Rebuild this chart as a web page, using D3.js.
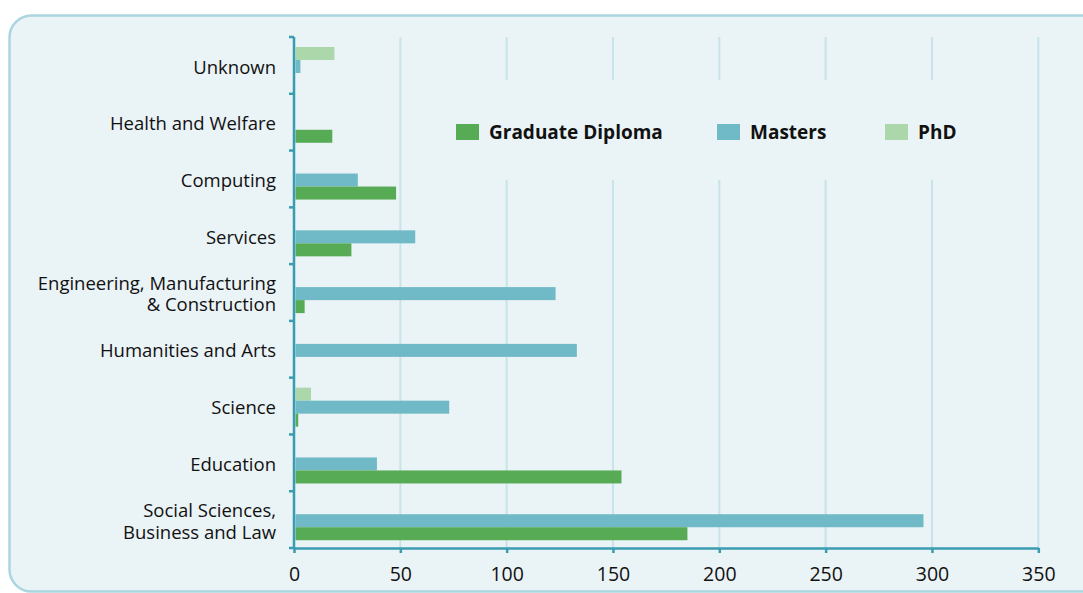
<!DOCTYPE html>
<html>
<head>
<meta charset="utf-8">
<script src="https://cdn.jsdelivr.net/npm/d3@7"></script>
<style>
  html, body { margin: 0; padding: 0; background: #ffffff; }
  svg { display: block; font-family: "Open Sans", "Noto Sans", sans-serif; }
</style>
</head>
<body>
<svg id="chart" width="1083" height="593"></svg>
<script>
// Fields of study, top to bottom
const categories = [
  ["Unknown"],
  ["Health and Welfare"],
  ["Computing"],
  ["Services"],
  ["Engineering, Manufacturing", "& Construction"],
  ["Humanities and Arts"],
  ["Science"],
  ["Education"],
  ["Social Sciences,", "Business and Law"]
];

const seriesNames = ["Graduate Diploma", "Masters", "PhD"];
const graduateDiploma = [0, 18, 48, 27, 5, 0, 2, 154, 185];
const masters         = [3, 0, 30, 57, 123, 133, 73, 39, 296];
const phd             = [19, 0, 0, 0, 0, 0, 8, 0, 0];
const xTicks = [0, 50, 100, 150, 200, 250, 300, 350];

const colors = { "Graduate Diploma": "#57ab55", "Masters": "#70b9c6", "PhD": "#acd7aa" };

const svg = d3.select("#chart");

// Rounded panel behind the chart
svg.append("rect")
  .attr("x", 9.5).attr("y", 15.5)
  .attr("width", 1110).attr("height", 576)
  .attr("rx", 22).attr("ry", 22)
  .attr("fill", "#eaf3f6")
  .attr("stroke", "#abd6df")
  .attr("stroke-width", 2.5);

const margin = { left: 294, top: 37 };

const x = d3.scaleLinear().domain([0, 350]).range([0, 1038.3 - 294]);
const y = d3.scaleBand().domain(d3.range(categories.length)).range([0, 548 - 37]).padding(0);

// Order of bars inside each category: PhD on top, then Masters, then Graduate Diploma
const sub = d3.scaleBand().domain(["PhD", "Masters", "Graduate Diploma"]).range([10, 49]);

const g = svg.append("g").attr("transform", `translate(${margin.left},${margin.top})`);

// Vertical gridlines
g.append("g").selectAll("line")
  .data(xTicks.filter(t => t > 0))
  .join("line")
  .attr("x1", d => x(d)).attr("x2", d => x(d))
  .attr("y1", 0).attr("y2", y.range()[1])
  .attr("stroke", "#c6e4ea")
  .attr("stroke-width", 2);

// Bars
const seriesData = [
  { name: "PhD", values: phd },
  { name: "Masters", values: masters },
  { name: "Graduate Diploma", values: graduateDiploma }
];
seriesData.forEach(s => {
  g.append("g").selectAll("rect")
    .data(s.values.map((v, i) => ({ v, i })).filter(d => d.v > 0))
    .join("rect")
    .attr("x", x(0) + 1.5)
    .attr("y", d => y(d.i) + sub(s.name))
    .attr("width", d => Math.max(0, x(d.v) - x(0) - 1.5))
    .attr("height", sub.bandwidth())
    .attr("fill", colors[s.name]);
});

// Legend panel masks the gridlines behind it
const legend = g.append("g");
legend.append("rect")
  .attr("x", 440 - margin.left).attr("y", 80 - margin.top)
  .attr("width", 560).attr("height", 100)
  .attr("fill", "#eaf3f6");
const legendX = [456, 717, 885];
seriesNames.forEach((name, i) => {
  const lg = legend.append("g").attr("transform", `translate(${legendX[i] - margin.left},${124 - margin.top})`);
  lg.append("rect").attr("width", 23).attr("height", 16).attr("fill", colors[name]);
  lg.append("text")
    .attr("x", 33).attr("y", 8)
    .attr("dy", "0.36em")
    .attr("font-size", 19)
    .attr("font-weight", "bold")
    .attr("fill", "#111")
    .text(name);
});

// Y axis with category labels
const yAxis = g.append("g");
yAxis.append("line")
  .attr("x1", 0).attr("x2", 0)
  .attr("y1", 0).attr("y2", y.range()[1])
  .attr("stroke", "#3a9cb0").attr("stroke-width", 2.5);
yAxis.selectAll("line.tick")
  .data(d3.range(categories.length + 1))
  .join("line")
  .attr("class", "tick")
  .attr("x1", -5).attr("x2", 0)
  .attr("y1", d => d * y.step()).attr("y2", d => d * y.step())
  .attr("stroke", "#3a9cb0").attr("stroke-width", 2.5);

categories.forEach((lines, i) => {
  const cy = y(i) + y.bandwidth() / 2 + 1.5;
  const lh = 21.5;
  const t = yAxis.append("text")
    .attr("text-anchor", "end")
    .attr("font-size", 18.5)
    .attr("fill", "#111");
  lines.forEach((ln, j) => {
    t.append("tspan")
      .attr("x", -18)
      .attr("y", cy + (j - (lines.length - 1) / 2) * lh)
      .attr("dy", "0.36em")
      .text(ln);
  });
});

// X axis
const xAxis = g.append("g").attr("transform", `translate(0,${y.range()[1]})`)
  .call(d3.axisBottom(x).tickValues(xTicks).tickSize(5).tickPadding(14).tickSizeOuter(0));
xAxis.select(".domain").attr("stroke", "#3a9cb0").attr("stroke-width", 2.5);
xAxis.selectAll(".tick line").attr("stroke", "#3a9cb0").attr("stroke-width", 2.5);
xAxis.selectAll(".tick text")
  .attr("font-size", 19.5)
  .attr("font-family", "\"Open Sans\", \"Noto Sans\", sans-serif")
  .attr("fill", "#111");
</script>
</body>
</html>
